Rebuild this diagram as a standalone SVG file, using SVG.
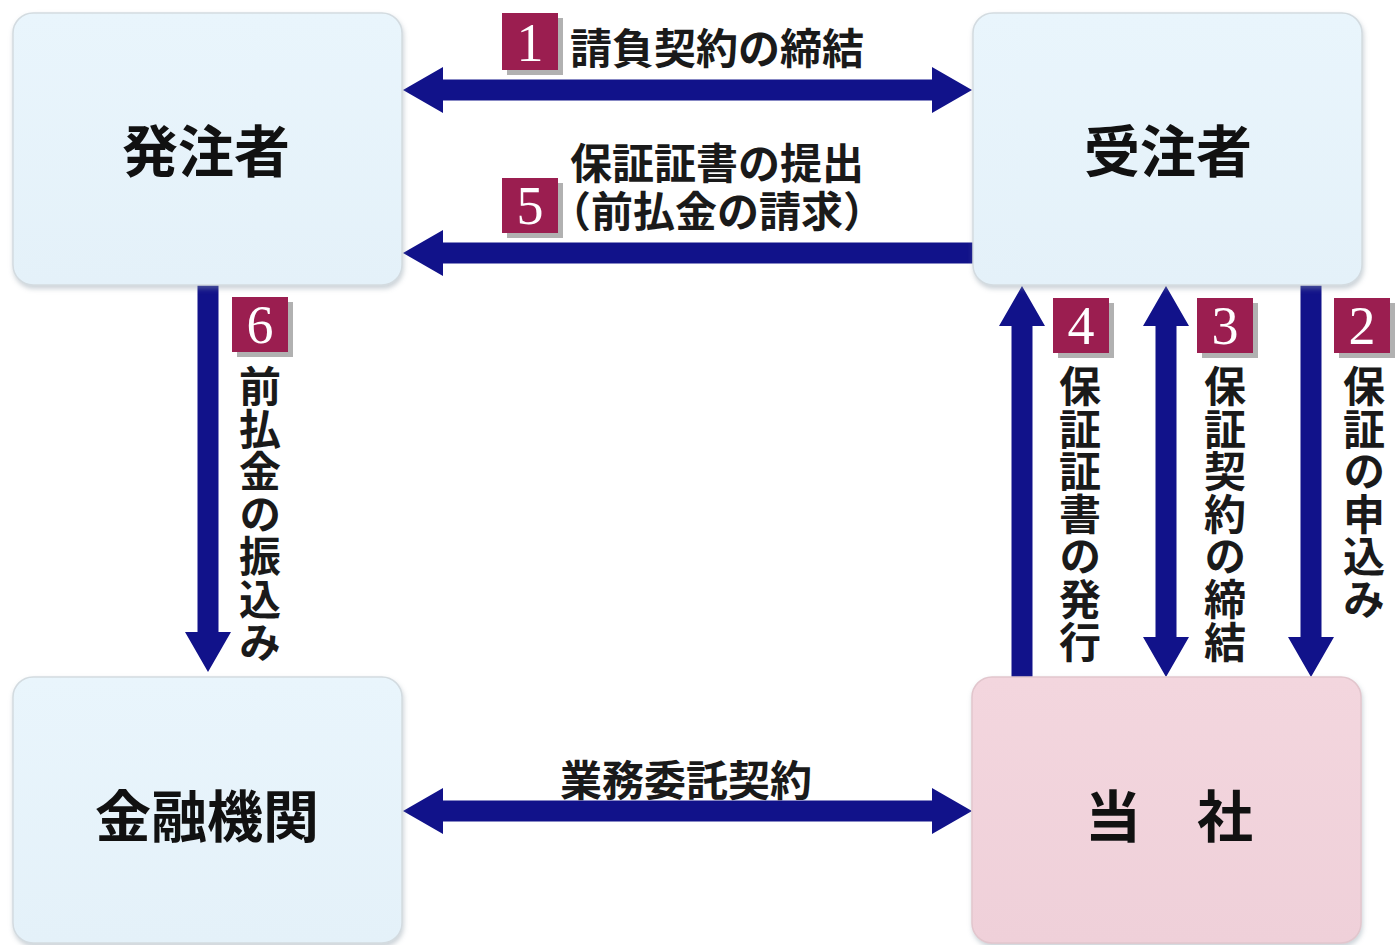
<svg xmlns="http://www.w3.org/2000/svg" width="1395" height="945" viewBox="0 0 1395 945">
<defs>
<filter id="sh" x="-5%" y="-5%" width="112%" height="115%">
<feDropShadow dx="1" dy="3" stdDeviation="2.5" flood-color="#8a9aa6" flood-opacity="0.45"/>
</filter>
<linearGradient id="gBlue" x1="0" y1="0" x2="0" y2="1">
<stop offset="0" stop-color="#e9f5fc"/>
<stop offset="1" stop-color="#e4f1f9"/>
</linearGradient>
<linearGradient id="gPink" x1="0" y1="0" x2="0" y2="1">
<stop offset="0" stop-color="#f3d6de"/>
<stop offset="1" stop-color="#efd0d9"/>
</linearGradient>
</defs>
<style>
.box{stroke:#d3dbe0;stroke-width:1.5;filter:url(#sh)}
.blue{fill:url(#gBlue)}
.pink{fill:url(#gPink);stroke:#e2c6cd}
.node{font-family:"Noto Sans CJK JP","Noto Sans CJK SC",sans-serif;font-size:56px;font-weight:700;fill:#111;text-anchor:middle}
.lbl{font-family:"Noto Sans CJK JP","Noto Sans CJK SC",sans-serif;font-size:42px;font-weight:600;fill:#1a1a1a}
.vlbl{font-family:"Noto Sans CJK JP","Noto Sans CJK SC",sans-serif;font-size:42px;font-weight:600;fill:#1a1a1a;writing-mode:vertical-rl;text-orientation:upright;letter-spacing:0.6px}
.arr{fill:#11128a}
.badge{fill:#9b1e50}
.bsh{fill:#9e9e9e;opacity:0.8}
.num{font-family:"Liberation Serif",serif;font-size:54px;fill:#fff;text-anchor:middle}
</style>

<g id="connectors">
<polygon class="arr" points="403,90 443,67 443,79.5 932,79.5 932,67 972,90 932,113 932,100.5 443,100.5 443,113"/>
<polygon class="arr" points="403,253 443,230 443,242.5 975,242.5 975,263.5 443,263.5 443,276"/>
<polygon class="arr" points="403,811 443,788 443,800.5 932,800.5 932,788 972,811 932,834 932,821.5 443,821.5 443,834"/>
<polygon class="arr" points="197.5,282 218.5,282 218.5,632 231,632 208,672 185,632 197.5,632"/>
<polygon class="arr" points="1022,286 1045,326 1032.5,326 1032.5,680 1011.5,680 1011.5,326 999,326"/>
<polygon class="arr" points="1166,286 1189,326 1176.5,326 1176.5,637 1189,637 1166,677 1143,637 1155.5,637 1155.5,326 1143,326"/>
<polygon class="arr" points="1300.5,282 1321.5,282 1321.5,637 1334,637 1311,677 1288,637 1300.5,637"/>

<g id="label1">
<rect class="bsh" x="507" y="18" width="56" height="57"/>
<rect class="badge" x="502" y="13" width="56" height="57"/>
<text class="num" x="530" y="61">1</text>
<text class="lbl" x="570" y="64">請負契約の締結</text>
</g>
<g id="label5">
<rect class="bsh" x="507" y="183" width="56" height="55"/>
<rect class="badge" x="502" y="178" width="56" height="55"/>
<text class="num" x="530" y="224">5</text>
<text class="lbl" x="570" y="179">保証証書の提出</text>
<text class="lbl" x="549" y="227">（前払金の請求）</text>
</g>
<g id="label6">
<rect class="bsh" x="237" y="302" width="56" height="55"/>
<rect class="badge" x="232" y="297" width="56" height="55"/>
<text class="num" x="260" y="343">6</text>
<text class="vlbl" x="260" y="365">前払金の振込み</text>
</g>
<g id="label4">
<rect class="bsh" x="1058" y="303" width="56" height="55"/>
<rect class="badge" x="1053" y="298" width="56" height="55"/>
<text class="num" x="1081" y="344">4</text>
<text class="vlbl" x="1080" y="365">保証証書の発行</text>
</g>
<g id="label3">
<rect class="bsh" x="1202" y="303" width="56" height="55"/>
<rect class="badge" x="1197" y="298" width="56" height="55"/>
<text class="num" x="1225" y="344">3</text>
<text class="vlbl" x="1225" y="365">保証契約の締結</text>
</g>
<g id="label2">
<rect class="bsh" x="1339" y="303" width="56" height="55"/>
<rect class="badge" x="1334" y="298" width="56" height="55"/>
<text class="num" x="1362" y="344">2</text>
<text class="vlbl" x="1364" y="365">保証の申込み</text>
</g>
<g id="labelBottom">
<text class="lbl" x="686" y="796" text-anchor="middle">業務委託契約</text>
</g>
</g>

<g id="node-hatchusha">
<rect class="box blue" x="13" y="13" width="389" height="272" rx="20"/>
<text class="node" x="206" y="172">発注者</text>
</g>
<g id="node-juchusha">
<rect class="box blue" x="973" y="13" width="389" height="272" rx="20"/>
<text class="node" x="1168" y="172">受注者</text>
</g>
<g id="node-kinyukikan">
<rect class="box blue" x="13" y="677" width="389" height="266" rx="20"/>
<text class="node" x="207" y="837">金融機関</text>
</g>
<g id="node-tosha">
<rect class="box pink" x="972" y="677" width="389" height="266" rx="20"/>
<text class="node" x="1169" y="837">当　社</text>
</g>
</svg>
